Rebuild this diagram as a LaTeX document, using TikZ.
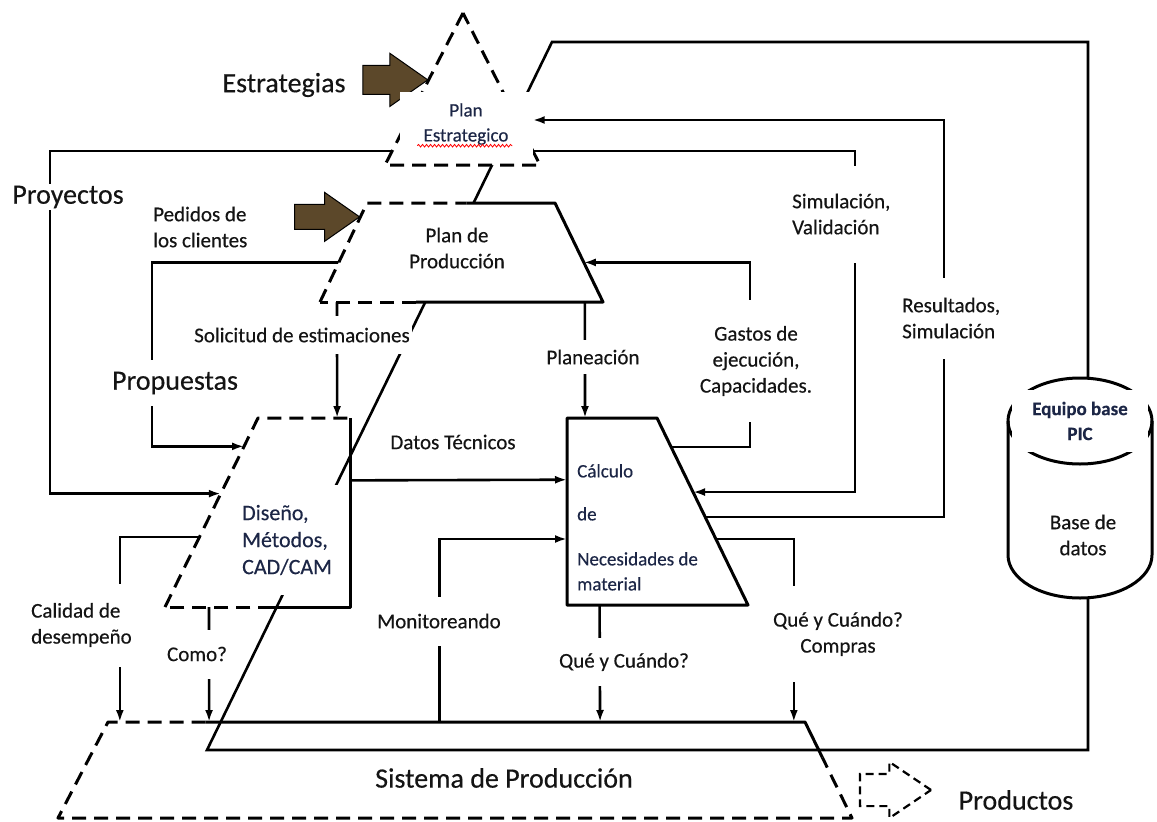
\documentclass[tikz,border=0pt]{standalone}
\usepackage{fontspec}
\setmainfont{Carlito}[FakeBold=0.35]
\usetikzlibrary{arrows.meta, calc, shapes.arrows, backgrounds, decorations.pathmorphing}
\definecolor{inkbrown}{RGB}{92,72,42}
\definecolor{boxtext}{RGB}{28,38,70}
\definecolor{labeltext}{RGB}{20,20,20}

\begin{document}
\begin{tikzpicture}[x=1pt, y=-1pt, >={Latex[length=12pt,width=8pt]},
        shp/.style={line width=3pt, line join=round},
        brk/.style={shp, dash pattern=on 14pt off 8pt},
        conn/.style={line width=2.6pt},
        lbl/.style={font=\fontsize{21}{26}\selectfont, text=labeltext, fill=white, inner sep=2pt, align=center},
        biglbl/.style={lbl, font=\fontsize{28}{32}\selectfont},
        boxlbl/.style={lbl, text=boxtext, font=\fontsize{19}{25}\selectfont},
        inarrow/.style={single arrow, draw=black, line width=1pt, fill=inkbrown, minimum height=65pt,
          inner xsep=0pt, inner ysep=14pt, single arrow head extend=12pt, single arrow tip angle=70},
        outarrow/.style={single arrow, draw=black, line width=2.2pt, dash pattern=on 8pt off 5pt, minimum height=71pt,
          inner xsep=0pt, inner ysep=15pt, single arrow head extend=12pt, single arrow tip angle=68}
        ]
        \useasboundingbox (0,0) rectangle (1157,822);

        \coordinate (pe-a) at (463,13);
        \coordinate (pe-l) at (385,165);
        \coordinate (pe-r) at (540,165);
        \coordinate (pp-tl) at (367,203);
        \coordinate (pp-tr) at (555,203);
        \coordinate (pp-br) at (603,302);
        \coordinate (pp-bl) at (320,302);
        \coordinate (di-tl) at (258,418);
        \coordinate (di-tr) at (350,418);
        \coordinate (di-br) at (350,607);
        \coordinate (di-bl) at (165,607);
        \coordinate (ca-tl) at (567,418);
        \coordinate (ca-tr) at (657,418);
        \coordinate (ca-br) at (748,605);
        \coordinate (ca-bl) at (567,605);
        \coordinate (sp-tl) at (108,722);
        \coordinate (sp-tr) at (805,722);
        \coordinate (sp-br) at (852,818);
        \coordinate (sp-bl) at (58,818);
        \coordinate (db-c) at (1080,421);
        \coordinate (db-top) at (1088,378);
        \coordinate (db-bot) at (1088,598);
        \coordinate (dg-low) at (207,750);
        \coordinate (dg-high) at (552,42);

        \coordinate (pry-in) at ($(di-tl)!.4!(di-bl)$);
        \coordinate (pro-in) at ($(di-tl)!.15!(di-bl)$);
        \coordinate (cal-out) at ($(di-tl)!.63!(di-bl)$);
        \coordinate (pro-out) at ($(pp-tl)!.6!(pp-bl)$);
        \coordinate (gas-in) at ($(pp-tr)!.6!(pp-br)$);
        \coordinate (sol-out) at ($(pp-bl)!.06!(pp-br)$);
        \coordinate (sol-in) at ($(di-tl)!.86!(di-tr)$);
        \coordinate (pla-out) at ($(pp-bl)!.936!(pp-br)$);
        \coordinate (pla-in) at ($(ca-tl)!.2!(ca-tr)$);
        \coordinate (dat-out) at ($(di-tr)!.33!(di-br)$);
        \coordinate (dat-in) at ($(ca-tl)!.33!(ca-bl)$);
        \coordinate (mon-in) at ($(ca-tl)!.647!(ca-bl)$);
        \coordinate (mon-out) at ($(sp-tl)!.476!(sp-tr)$);
        \coordinate (que-out) at ($(ca-bl)!.18!(ca-br)$);
        \coordinate (que-in) at ($(sp-tl)!.706!(sp-tr)$);
        \coordinate (com-out) at ($(ca-tr)!.647!(ca-br)$);
        \coordinate (com-in) at ($(sp-tl)!.984!(sp-tr)$);
        \coordinate (res-out) at ($(ca-tr)!.53!(ca-br)$);
        \coordinate (sim-in) at ($(ca-tr)!.396!(ca-br)$);
        \coordinate (gas-out) at ($(ca-tr)!.155!(ca-br)$);
        \coordinate (como-out) at ($(di-bl)!.238!(di-br)$);
        \coordinate (como-in) at ($(sp-tl)!.145!(sp-tr)$);
        \coordinate (cal-in) at ($(sp-tl)!.017!(sp-tr)$);
        \coordinate (pry-c) at (50,151);
        \coordinate (sim-c) at (855,151);
        \coordinate (pro-c) at (152,0);
        \coordinate (res-c) at (944,120);
        \coordinate (gas-c) at (750,0);
        \coordinate (estr-tip) at ($(pe-a)!.44!(pe-l)$);
        \coordinate (ped-tip) at ($(pp-tl)!.14!(pp-bl)$);
        \coordinate (prod-tip) at (933,790);

        \fill[white] (pe-a) -- (pe-l) -- (pe-r) -- cycle;
        \draw[brk] (pe-a) -- (pe-l) -- (pe-r) -- cycle;

        \fill[white] (pp-tl) -- (pp-tr) -- (pp-br) -- (pp-bl) -- cycle;
        \draw[brk] (pp-bl) -- (pp-tl) -- ($(pp-tl)!.53!(pp-tr)$);
        \draw[shp] ($(pp-tl)!.53!(pp-tr)$) -- (pp-tr) -- (pp-br) -- ($(pp-bl)!.34!(pp-br)$);
        \draw[brk] ($(pp-bl)!.34!(pp-br)$) -- (pp-bl);

        \draw[brk] (di-bl) -- (di-tl) -- (di-tr);
        \draw[shp] (di-tr) -- (di-br) -- ($(di-bl)!.58!(di-br)$);
        \draw[brk] ($(di-bl)!.58!(di-br)$) -- (di-bl);

        \draw[shp] (ca-tl) -- (ca-tr) -- (ca-br) -- (ca-bl) -- cycle;

        \draw[brk] ($(sp-tl)!.14!(sp-tr)$) -- (sp-tl) -- (sp-bl) -- (sp-br) -- ($(sp-tr)!.37!(sp-br)$);
        \draw[shp] ($(sp-tl)!.14!(sp-tr)$) -- (sp-tr) -- ($(sp-tr)!.37!(sp-br)$);

        \draw[shp] ($(db-c)+(-72,0)$) -- ++(0,134) arc[start angle=180, end angle=360, x radius=72pt, y radius=43pt] -- ($(db-c)+(72,0)$);
        \draw[shp] (db-c) ellipse [x radius=72pt, y radius=43pt];

        \node[inarrow, anchor=tip] (estr-arr) at (estr-tip) {};
        \node[inarrow, anchor=tip, inner ysep=12pt] (ped-arr) at (ped-tip) {};
        \node[outarrow, anchor=tip] (prod-arr) at (prod-tip) {};

        \node[boxlbl, minimum width=133pt, minimum height=65pt] (pebox) at (466,124) {Plan\\Estrategico};
        \draw[red, line width=.8pt, decorate, decoration={snake, amplitude=1.3pt, segment length=4pt}]
          ($(pebox.south west)+(18,-11)$) -- ++(95,0);
        \node[lbl, fill=none] (pp-txt) at (457,248) {Plan de\\Producción};
        \node[boxlbl, font=\fontsize{22}{27}\selectfont, align=left, text width=96pt, minimum height=110pt, anchor=west] (di-txt) at (240,540) {Diseño,\\Métodos,\\CAD/CAM};
        \node[boxlbl, fill=none, align=left, anchor=north west] (ca-txt) at (575,462) {Cálculo\\[18pt]de\\[20pt]Necesidades de\\material};
        \node[boxlbl, font=\bfseries\fontsize{19}{25}\selectfont, minimum width=136pt, minimum height=62pt] (db-head) at (db-c) {Equipo base\\PIC};
        \node[lbl, fill=none] (db-txt) at (1083,535) {Base de\\datos};

        \node[biglbl] (estr) at (284,85) {Estrategias};
        \node[biglbl] (pry) at (68,197) {Proyectos};
        \node[biglbl, inner ysep=12pt] (pro) at (175,383) {Propuestas};
        \node[lbl, align=left, anchor=west] (ped) at (151,227) {Pedidos de\\los clientes};
        \node[lbl, inner ysep=12pt] (sol) at (302,335) {Solicitud de estimaciones};
        \node[lbl, inner ysep=10pt] (pla) at (593,357) {Planeación};
        \node[lbl, minimum height=122pt] (gas) at (756,361) {Gastos de\\ejecución,\\Capacidades.};
        \node[lbl, align=left, anchor=west, minimum height=97pt] (sim) at (790,214) {Simulación,\\Validación};
        \node[lbl, align=left, anchor=west, minimum height=81pt] (res) at (900,318) {Resultados,\\Simulación};
        \node[lbl] (dat) at (453,442) {Datos Técnicos};
        \node[lbl, minimum height=49pt] (mon) at (439,621) {Monitoreando};
        \node[lbl, minimum height=48pt] (que) at (624,662) {Qué y Cuándo?};
        \node[lbl, minimum height=96pt] (com) at (838,634) {Qué y Cuándo?\\Compras};
        \node[lbl, align=left, anchor=west, minimum height=83pt] (cal) at (29,625) {Calidad de\\desempeño};
        \node[lbl, minimum height=49pt] (como) at (197,654) {Como?};
        \node[biglbl, fill=none] (sis) at (504,778) {Sistema de Producción};
        \node[biglbl] (prod) at (1016,800) {Productos};

        \begin{scope}[on background layer]
          \fill[white] (0,0) rectangle (1157,822);
          \draw[conn] (db-bot) |- (dg-low) -- (dg-high) -| (db-top);
          \draw[conn,<->] (pry-in) -| (pry-c) -- (sim-c) |- (sim-in);
          \draw[conn,->] (res-out) -| (res-c) -- (res-c -| pebox.east);
          \draw[conn,->] (gas-out) -| (gas-c |- gas-in) -- (gas-in);
          \draw[conn,->] (pro-out) -| (pro-c |- pro-in) -- (pro-in);
          \draw[conn,->] (sol-out) -- (sol-in);
          \draw[conn,->] (pla-out) -- (pla-in);
          \draw[conn,->] (dat-out) -- (dat-in);
          \draw[conn,->] (mon-out) |- (mon-in);
          \draw[conn,->] (que-out) -- (que-in);
          \draw[conn,->] (com-out) -| (com-in);
          \draw[conn,->] (cal-out) -| (cal-in);
          \draw[conn,->] (como-out) -- (como-in);
        \end{scope}
      \end{tikzpicture}
\end{document}
